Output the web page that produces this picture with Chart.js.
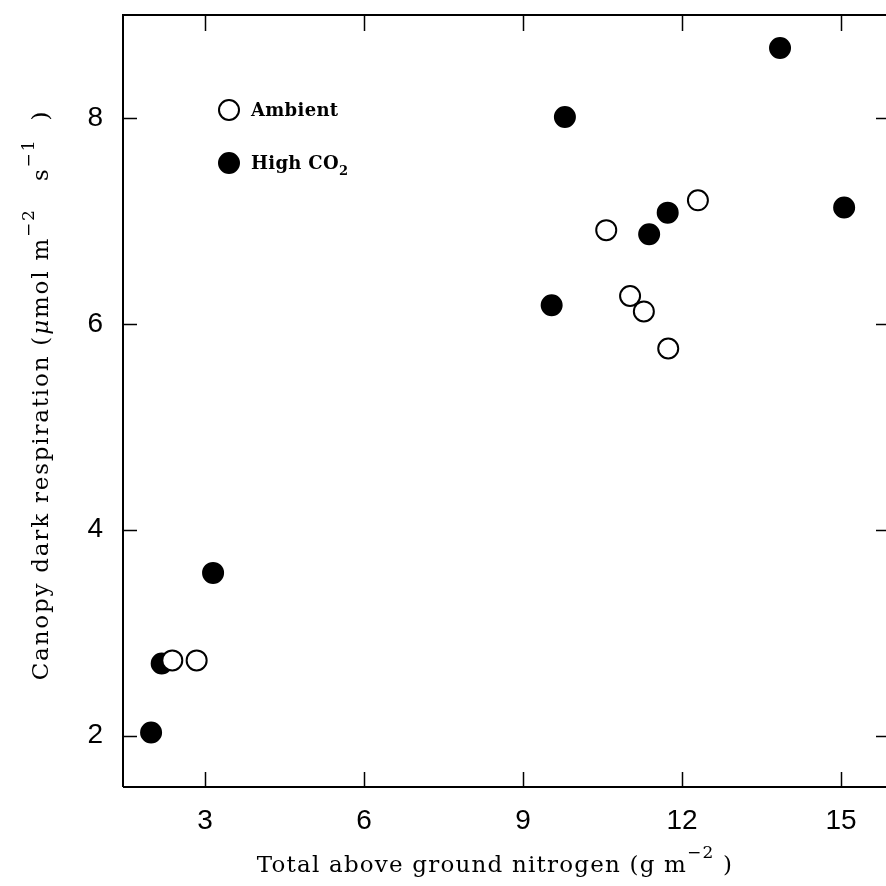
<!DOCTYPE html>
<html>
<head>
<meta charset="utf-8">
<script src="https://cdn.jsdelivr.net/npm/chart.js@4"></script>
<style>
html,body{margin:0;padding:0;background:#fff;}
canvas{display:block;}
</style>
</head>
<body>
<canvas id="c" width="886" height="886"></canvas>
<script>
// ---- data ----
const xTickValues = [3, 6, 9, 12, 15];
const yTickValues = [2, 4, 6, 8];

const ambientX = [2.38, 2.84, 10.57, 11.02, 11.28, 11.74, 12.30];
const ambientY = [2.73, 2.73, 6.91, 6.27, 6.12, 5.76, 7.20];

const highX = [1.98, 2.18, 3.15, 9.54, 9.79, 11.38, 11.73, 13.85, 15.06];
const highY = [2.03, 2.70, 3.58, 6.18, 8.01, 6.87, 7.08, 8.68, 7.13];

const seriesLabels = ['Ambient', 'High CO₂'];
const xTitle = [{t:'Total above ground nitrogen (g m'},{t:'−2',sup:true},{t:' )'}];
const yTitle = [{t:'Canopy dark respiration ('},{t:'μ',it:true},{t:'mol m'},{t:'−2',sup:true},{t:'   s'},{t:'−1',sup:true},{t:'  )'}];

const toPts = (xs, ys) => xs.map((x, i) => ({x, y: ys[i]}));

const TITLE_FONT = '"DejaVu Serif", serif';
const TICK_FONT = '"Liberation Sans", Arial, sans-serif';

function segFont(s, size, bold) {
  return (s.it ? 'italic ' : '') + (bold ? 'bold ' : '') + (s.sup || s.sub ? Math.round(size * 0.72) : size) + 'px ' + TITLE_FONT;
}
function drawSegments(ctx, segs, size, x0, cy, bold, spacing, measureOnly) {
  let x = x0;
  ctx.textBaseline = 'alphabetic';
  ctx.textAlign = 'left';
  segs.forEach(s => {
    ctx.font = segFont(s, size, bold);
    ctx.letterSpacing = spacing + 'px';
    let dy = 0;
    if (s.sup) dy = -size * 0.62;
    if (s.sub) dy = size * 0.32;
    if (!measureOnly) ctx.fillText(s.t, x, cy + dy);
    x += ctx.measureText(s.t).width;
  });
  ctx.letterSpacing = '0px';
  return x - x0;
}
function drawCentered(ctx, segs, size, cx, cy, spacing) {
  const w = drawSegments(ctx, segs, size, 0, 0, false, spacing, true);
  drawSegments(ctx, segs, size, cx - w / 2, cy, false, spacing, false);
}

const framePlugin = {
  id: 'frame',
  afterDraw(chart) {
    const ctx = chart.ctx, a = chart.chartArea;
    const xs = chart.scales.x, ys = chart.scales.y;
    ctx.save();
    ctx.strokeStyle = '#000';
    ctx.lineWidth = 2;
    ctx.beginPath();
    ctx.moveTo(a.left, a.bottom); ctx.lineTo(a.left, a.top); ctx.lineTo(a.right, a.top);
    ctx.moveTo(a.left, a.bottom); ctx.lineTo(a.right, a.bottom);
    ctx.stroke();
    ctx.lineWidth = 1.5;
    ctx.beginPath();
    xTickValues.forEach(v => {
      const px = Math.round(xs.getPixelForValue(v)) + 0.5;
      ctx.moveTo(px, a.bottom); ctx.lineTo(px, a.bottom - 15);
      ctx.moveTo(px, a.top); ctx.lineTo(px, a.top + 16);
    });
    yTickValues.forEach(v => {
      const py = Math.round(ys.getPixelForValue(v)) + 0.5;
      ctx.moveTo(a.left, py); ctx.lineTo(a.left + 14, py);
      ctx.moveTo(a.right, py); ctx.lineTo(a.right - 10, py);
    });
    ctx.stroke();

    // legend
    const ds = chart.data.datasets;
    const legY = [110, 163];
    ds.forEach((d, i) => {
      ctx.beginPath();
      ctx.arc(229, legY[i], 10, 0, Math.PI * 2);
      ctx.fillStyle = d.backgroundColor;
      ctx.fill();
      ctx.lineWidth = 2;
      ctx.strokeStyle = d.borderColor;
      ctx.stroke();
      ctx.fillStyle = '#000';
      const lbl = seriesLabels[i];
      const segs = lbl.endsWith('₂') ? [{t: lbl.slice(0, -1)}, {t: '2', sub: true}] : [{t: lbl}];
      drawSegments(ctx, segs, 18, 251, legY[i] + 6, true, 0.3, false);
    });

    // axis titles
    ctx.fillStyle = '#000';
    drawCentered(ctx, xTitle, 23, 495, 872, 1.2);
    ctx.translate(48, 395);
    ctx.rotate(-Math.PI / 2);
    drawCentered(ctx, yTitle, 23, 0, 0, 1.8);
    ctx.restore();
  }
};

new Chart(document.getElementById('c'), {
  type: 'scatter',
  data: {
    datasets: [
      { label: seriesLabels[0], data: toPts(ambientX, ambientY), backgroundColor: '#fff', borderColor: '#000', borderWidth: 2, pointRadius: 10, pointHoverRadius: 10 },
      { label: seriesLabels[1], data: toPts(highX, highY), backgroundColor: '#000', borderColor: '#000', borderWidth: 2, pointRadius: 10, pointHoverRadius: 10 }
    ]
  },
  options: {
    responsive: false,
    animation: false,
    devicePixelRatio: 1,
    layout: { autoPadding: false, padding: { top: 15, right: 0, left: 0, bottom: 0 } },
    plugins: { legend: { display: false }, tooltip: { enabled: false } },
    scales: {
      x: {
        type: 'linear', min: 1.45, max: 15.85,
        afterBuildTicks: s => { s.ticks = xTickValues.map(v => ({value: v})); },
        afterFit: s => { s.height = 99; s.paddingLeft = 0; s.paddingRight = 0; },
        grid: { display: false, drawTicks: false },
        border: { display: false },
        ticks: { color: '#000', padding: 17, font: { family: TICK_FONT, size: 28 } }
      },
      y: {
        type: 'linear', min: 1.5, max: 9,
        afterBuildTicks: s => { s.ticks = yTickValues.map(v => ({value: v})); },
        afterFit: s => { s.width = 123; s.paddingTop = 0; s.paddingBottom = 0; },
        grid: { display: false, drawTicks: false },
        border: { display: false },
        ticks: { color: '#000', padding: 20, font: { family: TICK_FONT, size: 28 } }
      }
    }
  },
  plugins: [framePlugin]
});
</script>
</body>
</html>
